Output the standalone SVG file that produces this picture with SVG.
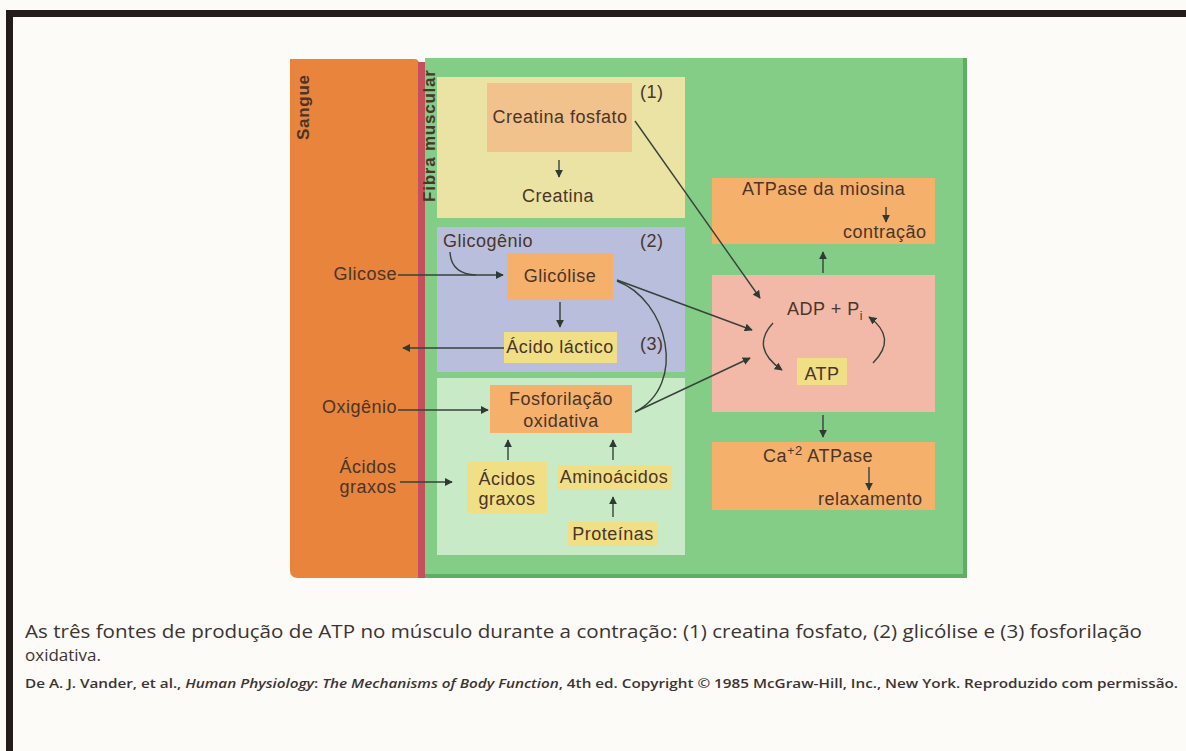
<svg xmlns="http://www.w3.org/2000/svg" width="1186" height="751" viewBox="0 0 1186 751">
  <style>
    .lbl { font-family: "Liberation Sans", Arial, sans-serif; font-size: 18px; letter-spacing: 0.5px; fill: #4a3529; }
    .mid { text-anchor: middle; }
    .end { text-anchor: end; }
    .side { font-family: "Liberation Sans", Arial, sans-serif; font-weight: bold; font-size: 17px; fill: #4a3529; }
    .cap { font-family: "Open Sans", "Liberation Sans", sans-serif; fill: #3a3432; }
    .ln { fill: none; stroke: #36423a; stroke-width: 1.4; }
    .orange { fill: #f5b06c; }
    .yellow { fill: #f1df86; }
  </style>
  <defs>
    <marker id="ah" viewBox="0 0 10 10" refX="9" refY="5" markerWidth="8" markerHeight="8" markerUnits="userSpaceOnUse" orient="auto">
      <path d="M0,0 L10,5 L0,10 Z" fill="#2f3a30"/>
    </marker>
  </defs>

  <!-- page and frame -->
  <rect x="0" y="0" width="1186" height="751" fill="#fdfbf8"/>
  <rect x="6" y="10" width="1180" height="7" fill="#241c1a"/>
  <rect x="6" y="10" width="7" height="741" fill="#241c1a"/>

  <!-- blood compartment -->
  <g id="sangue">
    <path d="M290,59 L414,59 Q419,59 419,64 L419,578 L298,578 Q290,578 290,570 Z" fill="#e8843c"/>
    <text class="side" transform="translate(309,140) rotate(-90)" textLength="65">Sangue</text>
  </g>

  <!-- muscle fibre compartment -->
  <g id="fibra">
    <rect x="418" y="62" width="8" height="516" fill="#c4505e"/>
    <rect x="425" y="58" width="542" height="520" fill="#84cd86"/>
    <rect x="963" y="58" width="4" height="520" fill="#5fae66"/>
    <rect x="425" y="574" width="542" height="4" fill="#5fae66"/>
    <text class="side" transform="translate(435,202) rotate(-90)" textLength="132">Fibra muscular</text>
  </g>

  <!-- (1) creatine phosphate -->
  <g id="via1">
    <rect x="437" y="77" width="248" height="141" fill="#eae3a4"/>
    <rect x="487" y="83" width="145" height="69" fill="#f2c28c"/>
    <text class="lbl mid" x="560" y="123">Creatina fosfato</text>
    <text class="lbl" x="640" y="98">(1)</text>
    <text class="lbl mid" x="558" y="202">Creatina</text>
  </g>

  <!-- (2) glycolysis -->
  <g id="via2">
    <rect x="437" y="227" width="248" height="145" fill="#b8bedc"/>
    <text class="lbl" x="443" y="247">Glicogênio</text>
    <text class="lbl" x="640" y="247">(2)</text>
    <g id="glicolise">
      <rect class="orange" x="507" y="253" width="106" height="47"/>
      <text class="lbl mid" x="560" y="282">Glicólise</text>
    </g>
    <g id="acido-lactico">
      <rect class="yellow" x="504" y="332" width="113" height="31"/>
      <text class="lbl mid" x="560" y="353">Ácido láctico</text>
    </g>
    <text class="lbl" x="640" y="350">(3)</text>
  </g>

  <!-- (3) oxidative phosphorylation -->
  <g id="via3">
    <rect x="437" y="378" width="248" height="177" fill="#c8eac6"/>
    <g id="fosforilacao">
      <rect class="orange" x="490" y="385" width="142" height="48"/>
      <text class="lbl mid" x="561" y="405">Fosforilação</text>
      <text class="lbl mid" x="561" y="427">oxidativa</text>
    </g>
    <g id="acidos-graxos">
      <rect class="yellow" x="467" y="462" width="80" height="51"/>
      <text class="lbl mid" x="507" y="485">Ácidos</text>
      <text class="lbl mid" x="507" y="505">graxos</text>
    </g>
    <g id="aminoacidos">
      <rect class="yellow" x="557" y="465" width="115" height="25"/>
      <text class="lbl mid" x="614" y="483">Aminoácidos</text>
    </g>
    <g id="proteinas">
      <rect class="yellow" x="568" y="522" width="90" height="24"/>
      <text class="lbl mid" x="613" y="540">Proteínas</text>
    </g>
  </g>

  <!-- blood-side labels -->
  <g id="sangue-labels">
    <text class="lbl end" x="397" y="280">Glicose</text>
    <text class="lbl end" x="397" y="413">Oxigênio</text>
    <text class="lbl mid" x="368" y="473">Ácidos</text>
    <text class="lbl mid" x="368" y="493">graxos</text>
  </g>

  <!-- myosin ATPase -->
  <g id="atpase-miosina">
    <rect class="orange" x="712" y="178" width="223" height="66"/>
    <text class="lbl" x="742" y="195">ATPase da miosina</text>
    <text class="lbl" x="843" y="238">contração</text>
  </g>

  <!-- ATP cycle -->
  <g id="ciclo-atp">
    <rect x="712" y="275" width="223" height="137" fill="#f2b9a8"/>
    <text class="lbl" x="787" y="315">ADP + P<tspan font-size="12" dy="5">i</tspan></text>
    <rect class="yellow" x="797" y="358" width="50" height="27"/>
    <text class="lbl mid" x="822" y="380">ATP</text>
  </g>

  <!-- calcium ATPase -->
  <g id="atpase-calcio">
    <rect class="orange" x="712" y="442" width="223" height="68"/>
    <text class="lbl" x="763" y="462">Ca<tspan font-size="13" dy="-7">+2</tspan><tspan dy="7"> ATPase</tspan></text>
    <text class="lbl" x="818" y="505">relaxamento</text>
  </g>

  <!-- connectors -->
  <g id="conectores" class="ln" marker-end="url(#ah)">
    <line x1="559" y1="160" x2="559" y2="177"/>
    <line x1="560" y1="302" x2="560" y2="327"/>
    <line x1="398" y1="275" x2="503" y2="275"/>
    <path d="M450,252 Q451,274 476,275" marker-end="none"/>
    <line x1="504" y1="348" x2="403" y2="348"/>
    <line x1="398" y1="410" x2="488" y2="410"/>
    <line x1="400" y1="482" x2="452" y2="482"/>
    <line x1="508" y1="460" x2="508" y2="440"/>
    <line x1="613" y1="460" x2="613" y2="440"/>
    <line x1="613" y1="517" x2="613" y2="497"/>
    <path d="M617,281 C668,300 688,385 635,412" marker-end="none"/>
    <line x1="635" y1="121" x2="760" y2="298"/>
    <line x1="617" y1="280" x2="752" y2="330"/>
    <line x1="635" y1="412" x2="750" y2="358"/>
    <path d="M773,323 Q750,348 782,370"/>
    <path d="M873,363 Q898,338 869,317"/>
    <line x1="823" y1="273" x2="823" y2="252"/>
    <line x1="823" y1="415" x2="823" y2="437"/>
    <line x1="886" y1="207" x2="886" y2="222"/>
    <line x1="869" y1="467" x2="869" y2="490"/>
  </g>

  <!-- caption -->
  <g id="legenda">
    <text class="cap" x="25" y="638" font-size="18" textLength="1117" lengthAdjust="spacingAndGlyphs">As três fontes de produção de ATP no músculo durante a contração: (1) creatina fosfato, (2) glicólise e (3) fosforilação</text>
    <text class="cap" x="25" y="661" font-size="17">oxidativa.</text>
    <text class="cap" x="25" y="688" font-size="12" font-weight="600" textLength="1153" lengthAdjust="spacingAndGlyphs">De A. J. Vander, et al., <tspan font-style="italic">Human Physiology</tspan>: <tspan font-style="italic">The Mechanisms of Body Function</tspan>, 4th ed. Copyright © 1985 McGraw-Hill, Inc., New York. Reproduzido com permissão.</text>
  </g>
</svg>
